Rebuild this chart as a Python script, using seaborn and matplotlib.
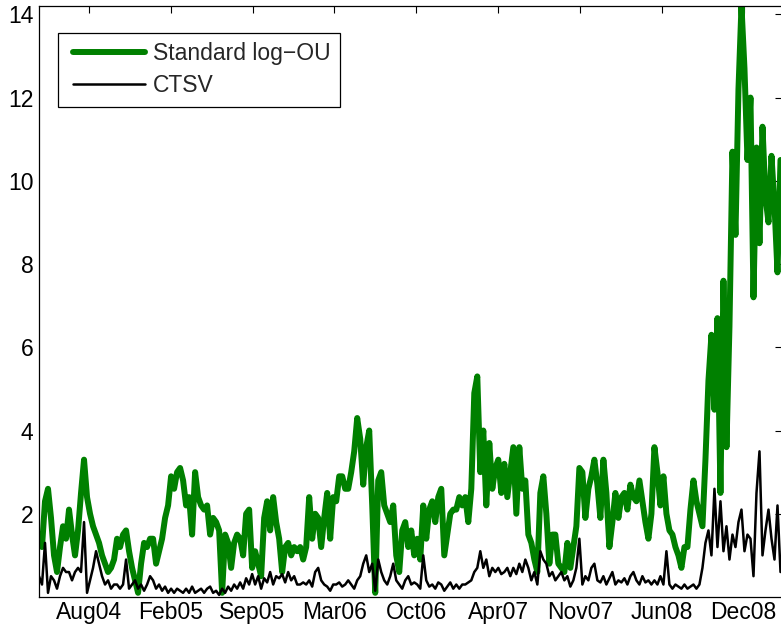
import matplotlib
matplotlib.use("Agg")
import matplotlib.pyplot as plt
from matplotlib.lines import Line2D
from matplotlib.legend_handler import HandlerLine2D
import numpy as np
import pandas as pd
import seaborn as sns

# Weekly-sampled volatility estimates (trading-time index)
log_ou = [
    1.5, 1.2, 2.3, 2.6, 1.9, 1.0, 0.6, 1.2, 1.7, 1.4, 2.1, 1.5, 1.0, 1.6, 2.5, 3.3,
    2.4, 2.0, 1.7, 1.5, 1.3, 1.0, 0.8, 0.6, 0.7, 0.9, 1.4, 1.2, 1.5, 1.6, 1.1, 0.7,
    0.4, 0.1, 0.8, 1.3, 1.2, 1.4, 1.4, 0.8, 1.1, 1.4, 1.9,
    2.2, 2.9, 2.6, 3.0, 3.1, 2.8, 2.2, 2.4, 1.5, 3.0, 2.4, 2.2, 2.1, 2.2, 1.5, 1.9,
    1.8, 1.6, 0.1, 1.5, 1.3, 0.7, 1.3, 1.5, 1.4, 1.0, 2.0, 2.1, 0.7, 1.1, 0.8, 0.5,
    1.9, 2.3, 1.6, 2.4, 1.8, 1.4, 0.6, 1.2, 1.3,
    1.0, 1.2, 1.1, 1.2, 0.9, 1.2, 2.4, 1.4, 2.0, 1.9, 1.2, 1.9, 2.5, 1.4, 2.4, 2.3,
    2.9, 2.9, 2.6, 2.6, 3.0, 3.5, 4.3, 3.8, 2.7, 3.6, 4.0, 2.2, 0.1, 2.8, 3.0, 2.2,
    2.0, 1.8, 2.2, 1.0, 0.6, 1.6, 1.8, 1.2, 1.6, 1.0,
    1.4, 0.9, 2.2, 1.4, 2.1, 2.3, 1.8, 2.4, 2.6, 1.0, 1.5, 2.0, 2.1, 2.1, 2.4, 2.2,
    2.4, 1.8, 2.6, 4.9, 5.3, 3.0, 4.0, 2.2, 3.7, 2.6, 3.1, 3.3, 2.5, 3.2, 2.4, 3.0,
    3.6, 2.0, 3.6, 2.6, 2.8, 1.5, 1.3, 0.9, 0.6,
    2.5, 2.9, 2.0, 0.8, 1.5, 1.5, 0.8, 0.7, 0.6, 1.3, 0.7, 1.2, 1.7, 3.1, 3.0, 1.9,
    2.6, 2.9, 3.3, 2.7, 1.9, 3.3, 2.5, 1.2, 1.8, 2.5, 1.9, 2.4, 2.5, 2.1, 2.7, 2.4,
    2.3, 2.8, 2.3, 1.8, 1.4, 2.0, 3.6,
    3.0, 2.2, 2.9, 2.0, 1.6, 1.5, 1.2, 1.0, 0.7, 1.2, 1.2, 2.1, 2.8, 2.3, 2.0, 1.7,
    3.3, 5.2, 6.3, 4.5, 6.7, 2.5, 7.6, 3.6, 6.5, 10.7, 8.7, 12.2, 14.2, 12.7, 10.5, 12.0,
    7.2, 10.8, 8.5, 11.3, 9.6, 9.0, 10.6, 9.4, 7.8, 10.5,
]

ctsv = [
    0.5, 0.3, 1.3, 0.1, 0.5, 0.4, 0.2, 0.5, 0.7, 0.6, 0.6, 0.4, 0.6, 0.7, 0.6, 1.8,
    0.1, 0.4, 0.7, 1.1, 0.8, 0.5, 0.3, 0.4, 0.2, 0.3, 0.3, 0.2, 0.3, 0.9, 0.2, 0.3,
    0.4, 0.2, 0.3, 0.15, 0.3, 0.5, 0.4, 0.2, 0.3, 0.15, 0.25,
    0.1, 0.2, 0.1, 0.2, 0.15, 0.1, 0.2, 0.1, 0.25, 0.1, 0.15, 0.2, 0.1, 0.2, 0.25, 0.1,
    0.15, 0.05, 0.2, 0.1, 0.25, 0.15, 0.3, 0.2, 0.35, 0.2, 0.45, 0.3, 0.55, 0.3, 0.5, 0.2,
    0.45, 0.35, 0.6, 0.3, 0.5, 0.45, 0.55, 0.35, 0.6,
    0.4, 0.5, 0.3, 0.3, 0.35, 0.3, 0.4, 0.25, 0.6, 0.7, 0.4, 0.3, 0.25, 0.15, 0.3, 0.3,
    0.35, 0.25, 0.3, 0.4, 0.3, 0.2, 0.4, 0.5, 0.8, 1.0, 0.6, 0.8, 0.15, 0.9, 0.6, 0.4,
    0.3, 0.5, 0.8, 0.4, 0.3, 0.2, 0.4, 0.5, 0.3, 0.35,
    0.3, 0.2, 1.0, 0.4, 0.25, 0.3, 0.2, 0.35, 0.3, 0.15, 0.25, 0.35, 0.2, 0.3, 0.2, 0.3,
    0.3, 0.35, 0.4, 0.6, 0.7, 1.1, 0.7, 0.9, 0.5, 0.7, 0.6, 0.7, 0.55, 0.6, 0.7, 0.5,
    0.7, 0.55, 0.8, 0.6, 0.9, 0.7, 0.4, 0.6, 0.3,
    1.1, 0.9, 0.8, 0.5, 0.6, 0.4, 0.5, 0.6, 0.4, 0.5, 0.25, 0.4, 0.7, 1.4, 0.3, 0.5,
    0.4, 0.7, 0.8, 0.4, 0.35, 0.5, 0.3, 0.45, 0.6, 0.3, 0.4, 0.35, 0.45, 0.3, 0.5, 0.6,
    0.4, 0.3, 0.5, 0.35, 0.4, 0.3, 0.4,
    0.3, 0.5, 0.3, 1.1, 0.3, 0.2, 0.3, 0.25, 0.2, 0.3, 0.2, 0.25, 0.3, 0.2, 0.3, 0.7,
    1.3, 1.6, 1.0, 2.6, 1.2, 2.3, 1.1, 1.7, 0.9, 1.5, 1.2, 1.8, 2.1, 1.1, 1.5, 1.4,
    0.5, 2.5, 3.5, 1.0, 1.6, 2.1, 1.4, 0.9, 2.2, 0.6,
]

date_labels = ["Aug04", "Feb05", "Sep05", "Mar06", "Oct06",
               "Apr07", "Nov07", "Jun08", "Dec08"]
y_ticks = [2, 4, 6, 8, 10, 12, 14]

series_names = ["Standard log\u2212OU", "CTSV"]

df = pd.DataFrame({
    "t": np.arange(len(log_ou)),
    series_names[0]: log_ou,
    series_names[1]: ctsv,
})

sns.set_style("white")
plt.rcParams["font.family"] = ["Liberation Sans", "DejaVu Sans"]

fig = plt.figure(figsize=(7.81, 6.34), dpi=100)
ax = fig.add_axes([39 / 781, 1 - 597 / 634, (782 - 39) / 781, (597 - 6) / 634])

sns.lineplot(data=df, x="t", y=series_names[0], ax=ax, color="#008000",
             linewidth=4.3, label=series_names[0],
             solid_joinstyle="round", solid_capstyle="round")
sns.lineplot(data=df, x="t", y=series_names[1], ax=ax, color="black",
             linewidth=1.8, label=series_names[1],
             solid_joinstyle="round", solid_capstyle="round")

n = len(log_ou)
ax.set_xlim(0, n - 0.5)
ax.set_ylim(0, max(log_ou))

step = 27.26
ax.set_xticks([16.6 + step * k for k in range(len(date_labels))])
ax.set_xticklabels(date_labels)
ax.set_yticks(y_ticks)
ax.set_xlabel("")
ax.set_ylabel("")

ax.tick_params(direction="in", length=5, width=0.8, top=True, right=True,
               labelsize=16.5, colors="black")
ax.tick_params(axis="x", pad=3)
ax.tick_params(axis="y", pad=4)
for sp in ax.spines.values():
    sp.set_visible(True)
    sp.set_color("black")
    sp.set_linewidth(0.9)

leg = ax.legend(loc="upper left", bbox_to_anchor=((58 - 39) / 743, 1 - 27 / 591),
                borderaxespad=0, frameon=True, fancybox=False, fontsize=16.5,
                handlelength=3.4, handletextpad=0.35, labelspacing=0.4,
                borderpad=0.4, handler_map={Line2D: HandlerLine2D(xpad=0.25)})
frame = leg.get_frame()
frame.set_edgecolor("black")
frame.set_linewidth(0.9)
frame.set_facecolor("white")
frame.set_alpha(1)

fig.savefig("out.png", dpi=100)
